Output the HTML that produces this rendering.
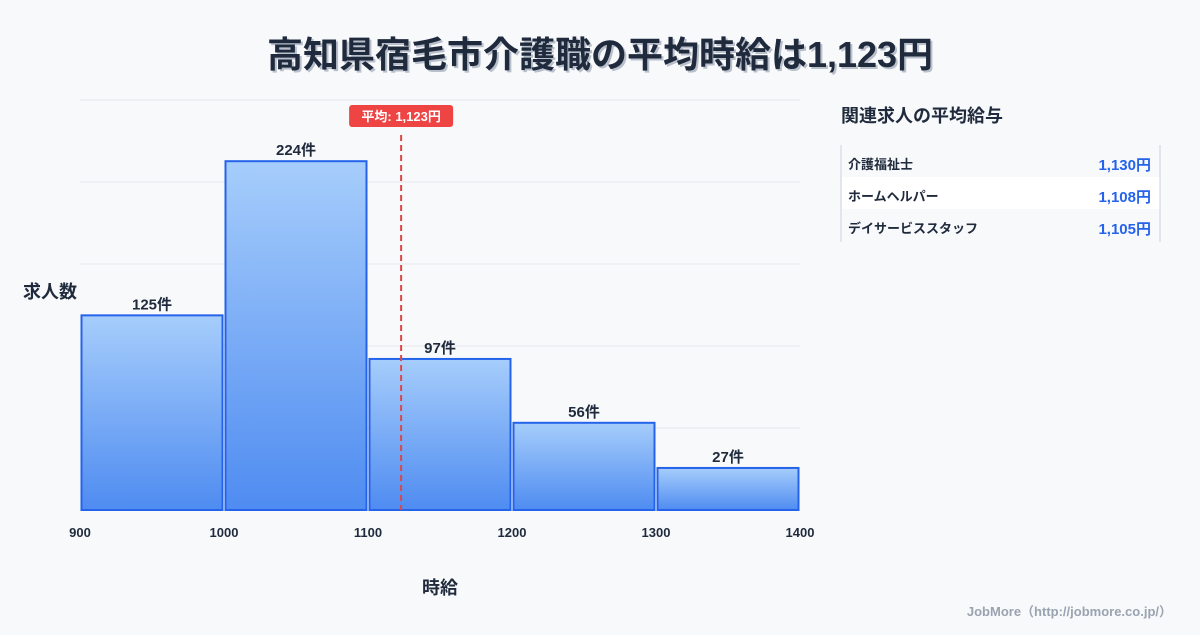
<!DOCTYPE html>
<html><head><meta charset="utf-8"><style>
body{margin:0;background:#f8f9fb;width:1200px;height:630px;overflow:hidden;font-family:"Liberation Sans","Noto Sans CJK JP",sans-serif;}
svg text{font-family:"Liberation Sans","Noto Sans CJK JP",sans-serif;}
</style></head><body>
<svg id="c" width="1200" height="630" xmlns="http://www.w3.org/2000/svg">
<defs><linearGradient id="g" x1="0" y1="0" x2="0" y2="1"><stop offset="0" stop-color="#a6cdfb"/><stop offset="1" stop-color="#4f8cf1"/></linearGradient></defs>
<text x="600" y="67" text-anchor="middle" font-size="36" font-weight="bold" fill="#b9c0cc" transform="translate(2,2)">高知県宿毛市介護職の平均時給は1,123円</text>
<text x="600" y="67" text-anchor="middle" font-size="36" font-weight="bold" fill="#1f2a3c">高知県宿毛市介護職の平均時給は1,123円</text>
<g id="grid"></g><g id="bars"></g><g id="xt"></g>
<text x="50" y="298" text-anchor="middle" font-size="18" font-weight="bold" fill="#1f2a3c">求人数</text>
<text x="440" y="594" text-anchor="middle" font-size="18" font-weight="bold" fill="#1f2a3c">時給</text>
<g id="mean"></g>
<text x="841" y="122" font-size="18" font-weight="bold" fill="#1f2a3c">関連求人の平均給与</text>
<g id="panel"></g>
<text x="1172" y="616" text-anchor="end" font-size="13" font-weight="bold" fill="#9aa3b0">JobMore（http://jobmore.co.jp/）</text>
</svg>
<script>
const binStarts=[900,1000,1100,1200,1300];
const counts=[125,224,97,56,27];
const xTicks=[900,1000,1100,1200,1300,1400];
const meanValue=1123;
const relNames=["介護福祉士","ホームヘルパー","デイサービススタッフ"];
const relValues=["1,130円","1,108円","1,105円"];
const NS="http://www.w3.org/2000/svg";
const X0=80,X1=800,Y0=510,Y1=100,xMin=900,xMax=1400,yMax=263.3;
const sx=v=>X0+(v-xMin)/(xMax-xMin)*(X1-X0);
const sy=v=>Y0-v/yMax*(Y0-Y1);
function mk(t,a,p,txt){const e=document.createElementNS(NS,t);for(const k in a)e.setAttribute(k,a[k]);if(txt!=null)e.textContent=txt;document.getElementById(p).appendChild(e);return e;}
for(let i=0;i<=5;i++){const y=Y0-i*(Y0-Y1)/5;const l=mk('line',{x1:X0,x2:X1,y1:y,y2:y,stroke:'#e3e6eb','stroke-width':1},'grid');

}
counts.forEach((c,i)=>{const a=sx(binStarts[i])+1.5,b=sx(binStarts[i]+100)-1.5;
const r=mk('rect',{x:a,y:sy(c),width:b-a,height:Y0-sy(c),fill:'url(#g)',stroke:'#2563eb','stroke-width':2},'bars');


const t=mk('text',{x:(a+b)/2,y:sy(c)-6,'text-anchor':'middle','font-size':15,'font-weight':'bold',fill:'#1f2a3c'},'bars',c+'件');

});
xTicks.forEach(v=>{const t=mk('text',{x:sx(v),y:537,'text-anchor':'middle','font-size':13,'font-weight':'bold',fill:'#1f2a3c'},'xt',v);

});
const mx=sx(meanValue);
const ml=mk('line',{x1:mx,x2:mx,y1:135,y2:Y0,stroke:'#e04444','stroke-width':2,'stroke-dasharray':'6,4'},'mean');


const mb=mk('rect',{x:mx-52,y:105,width:104,height:22,rx:3,fill:'#ef4444'},'mean');


const mt=mk('text',{x:mx,y:121,'text-anchor':'middle','font-size':13,'font-weight':'bold',fill:'#fff'},'mean','平均: 1,123円');


relNames.forEach((n,i)=>{const y=145+i*32;
const r=mk('rect',{x:842,y:y,width:318,height:32,fill:i==1?'#ffffff':'#f8f9fb'},'panel');


const a=mk('text',{x:848,y:y+24,'font-size':13,'font-weight':'bold',fill:'#1f2a3c'},'panel',n);


const b=mk('text',{x:1151,y:y+25,'text-anchor':'end','font-size':15,'font-weight':'bold',fill:'#2563eb'},'panel',relValues[i]);

});
[841,1160].forEach(x=>{const l=mk('line',{x1:x,x2:x,y1:145,y2:242,stroke:'#cdd3dc','stroke-width':1},'panel');

});
</script>
</body></html>
